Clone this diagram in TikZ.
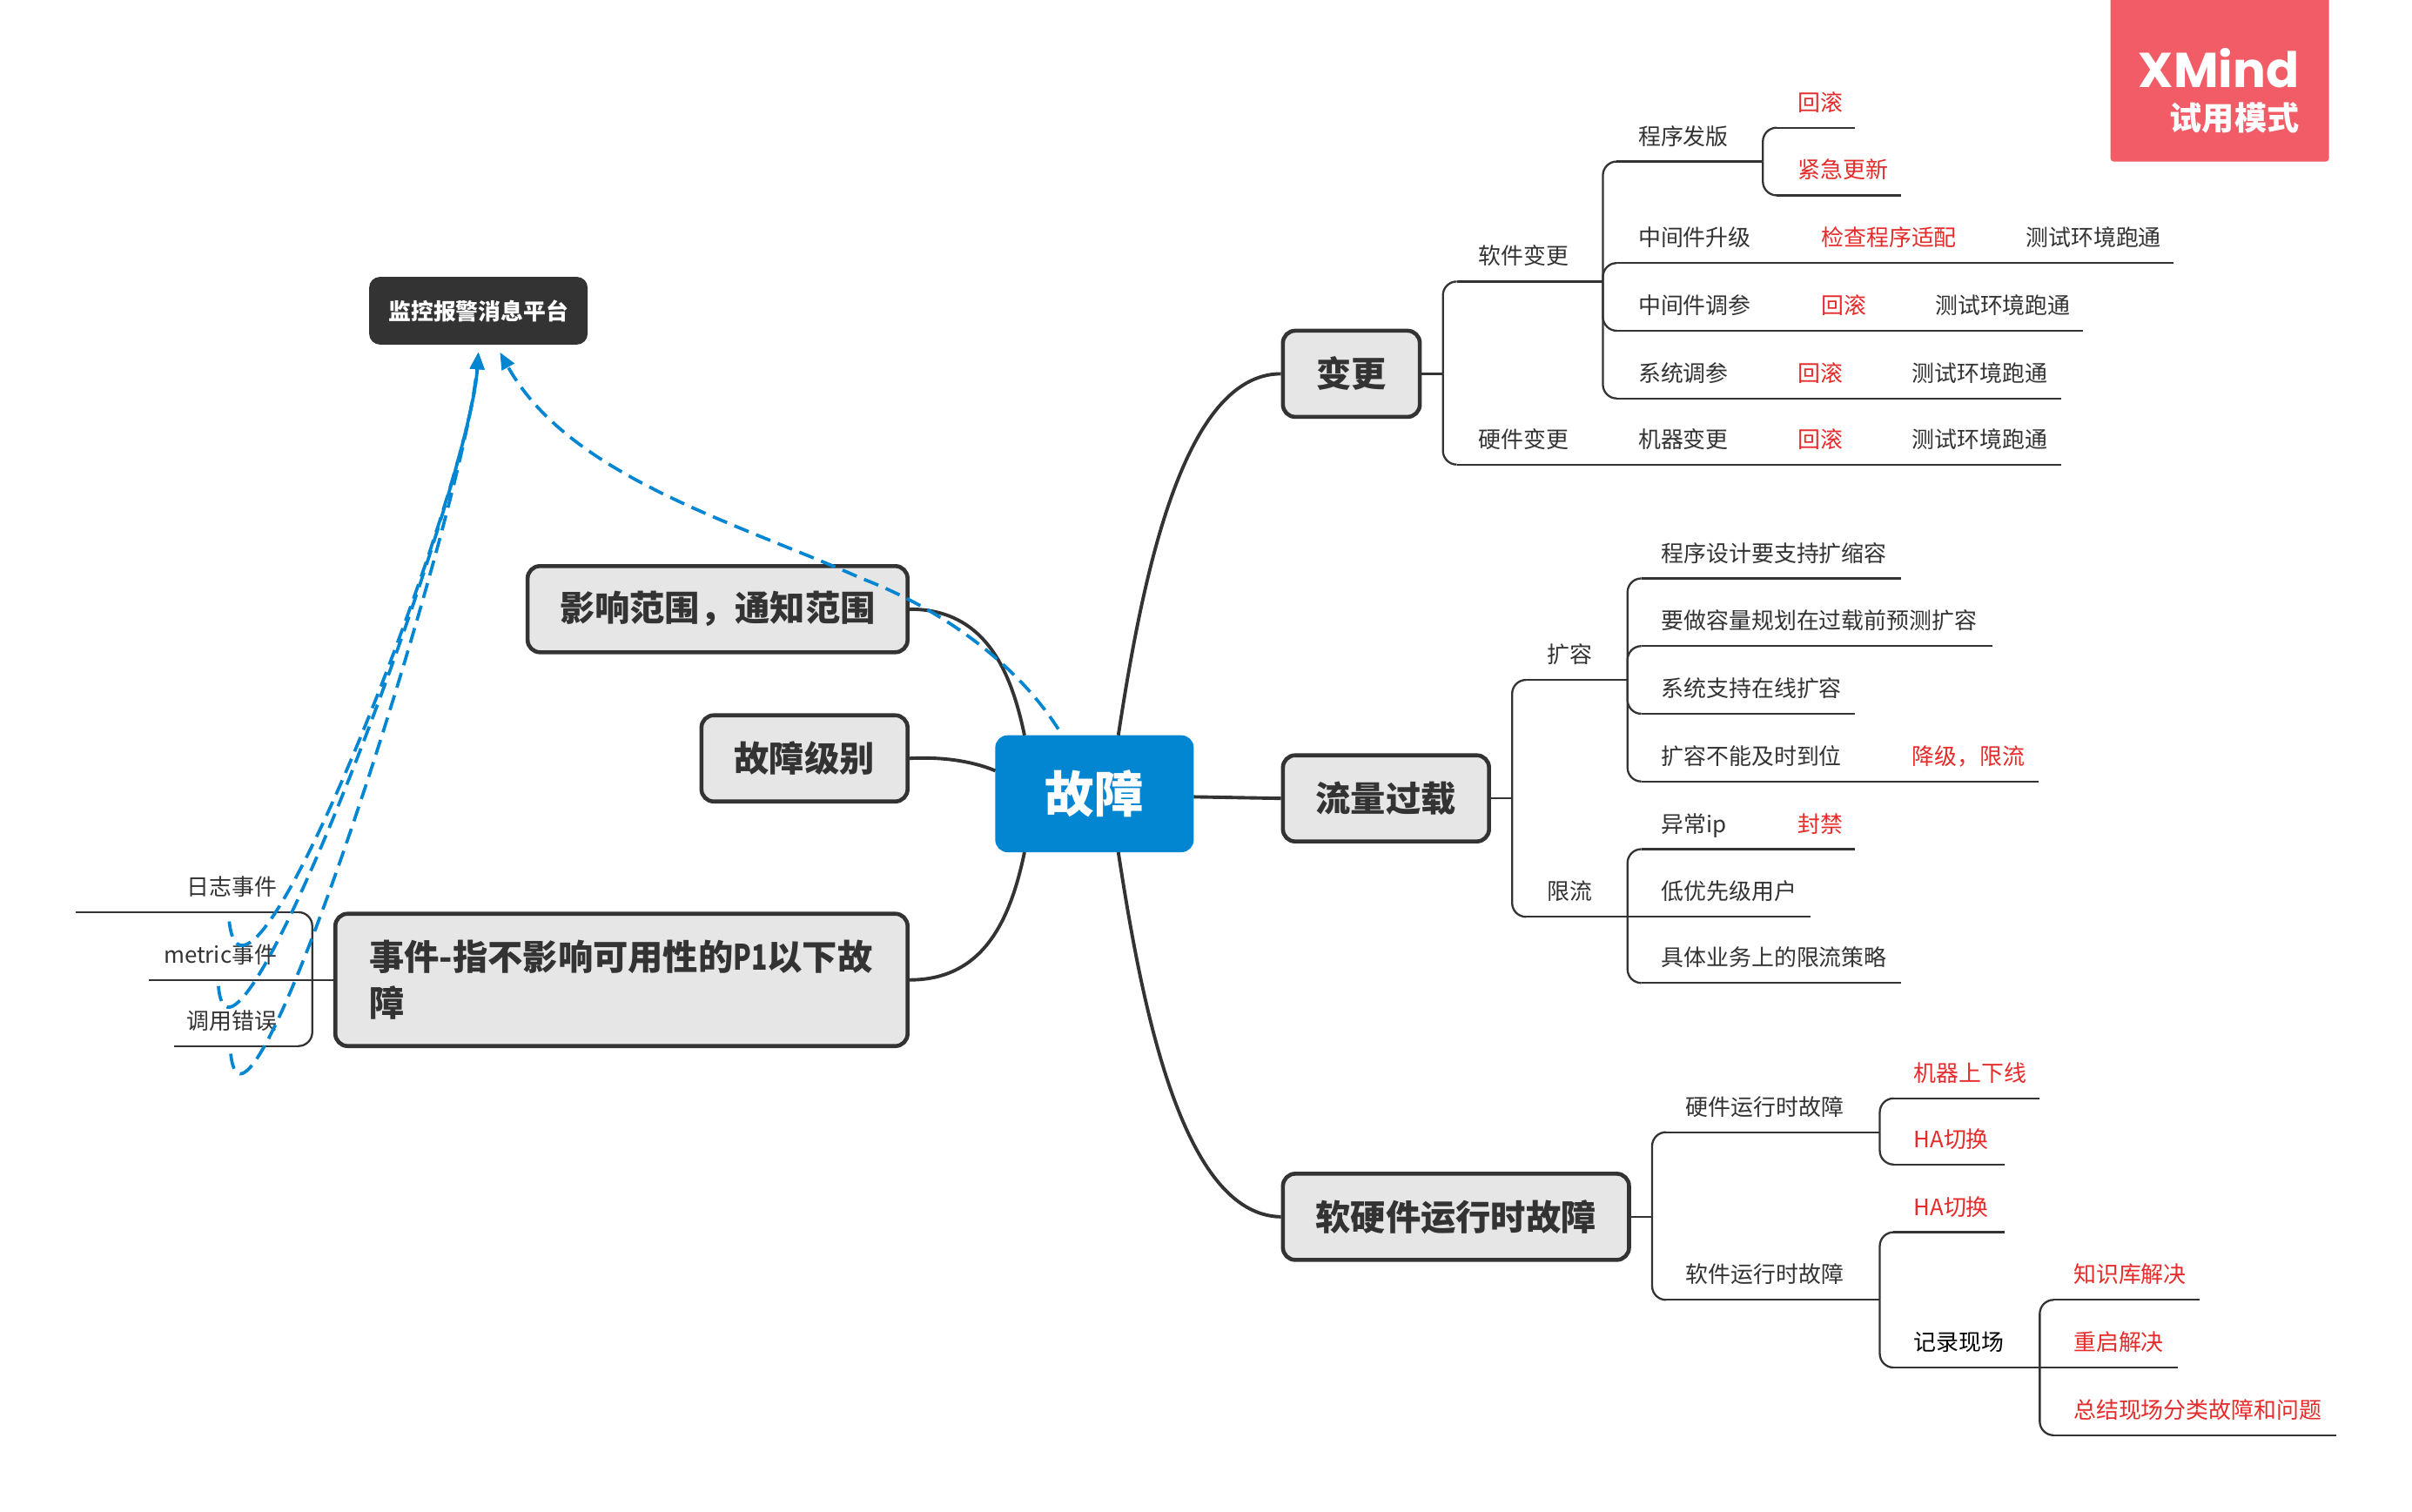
\documentclass[tikz,border=0pt]{standalone}
\usepackage{graphicx}
\usepackage{fontspec}
\setmainfont{Noto Sans CJK SC}
\newfontfamily\xmf{Poppins}
\usetikzlibrary{arrows.meta}
\definecolor{ink}{HTML}{333333}
\definecolor{redt}{HTML}{E62B2B}
\definecolor{bluef}{HTML}{0386D2}
\definecolor{boxf}{HTML}{E6E6E6}
\definecolor{wm}{HTML}{F25C66}
\newlength\tplen
\newlength\tppad
\tikzset{
  sub/.style={font=\fontsize{7.33pt}{9pt}\selectfont,inner sep=0pt,outer sep=0pt,text height=8pt,text depth=5.5pt},
  ul/.style={draw=ink,line width=0.65pt},
  conn/.style={draw=ink,line width=0.65pt,rounded corners=4.5pt},
  mainb/.style={draw=ink,line width=1.3pt,fill=boxf,rounded corners=4pt,text=ink,font=\fontsize{11.4pt}{15pt}\selectfont\bfseries,inner sep=0pt},
  mainc/.style={draw=ink,line width=1.1pt},
  rootb/.style={fill=bluef,rounded corners=4pt,text=white,font=\fontsize{16pt}{20pt}\selectfont\bfseries,inner sep=0pt},
  calloutb/.style={fill=ink,rounded corners=3.5pt,text=white,font=\fontsize{7.3pt}{9pt}\selectfont\bfseries,inner sep=0pt},
  rel/.style={draw=bluef,line width=1.05pt,dash pattern=on 5pt off 2.6pt,-{Triangle[length=5.5pt,width=4.5pt]}},
}
% [colour]{name}{x1}{x2}{y}{text x}{text}
\newcommand{\topicR}[7][ink]{%
  \pgfmathsetlength\tplen{(#4-#3)*0.5pt}%
  \pgfmathsetlength\tppad{(#6-#3)*0.5pt}%
  \node[sub,anchor=south west,text=#1] (#2) at (#3,#5) {\makebox[\tplen][l]{\hspace*{\tppad}#7}};
  \draw[ul] ([xshift=4.5pt]#2.south west) -- (#2.south east);
}
% [colour]{name}{x1}{x2}{y}{text right x}{text}
\newcommand{\topicL}[7][ink]{%
  \pgfmathsetlength\tplen{(#4-#3)*0.5pt}%
  \pgfmathsetlength\tppad{(#4-#6)*0.5pt}%
  \node[sub,anchor=south west,text=#1] (#2) at (#3,#5) {\makebox[\tplen][r]{#7\hspace*{\tppad}}};
  \draw[ul] (#2.south west) -- ([xshift=-4.5pt]#2.south east);
}
% elbow from a parent point to a child topic, straight link from a parent topic to a child topic
\newcommand{\brk}[2]{\draw[conn] (#1) |- ([xshift=4.5pt]#2.south west);}
\newcommand{\lnk}[2]{\draw[conn] (#1.south east) -- ([xshift=4.5pt]#2.south west);}
\begin{document}
\begin{tikzpicture}[x=0.5pt,y=-0.5pt]
\useasboundingbox (0,0) rectangle (1568,982.9);
\fill[white] (0,0) rectangle (1568,982.9);
% watermark
\fill[wm,rounded corners=1pt] (1372,-5) rectangle (1514,105);
\node[text=white,font=\xmf\bfseries\fontsize{15.9pt}{18pt}\selectfont,anchor=east,inner sep=0pt] (xm) at (1495,44) {XMind};
\node[text=white,font=\bfseries\fontsize{10.5pt}{11pt}\selectfont,anchor=east,inner sep=0pt] (xt) at (1495,76.5) {试用模式};
% main boxes
\node[rootb,minimum width=129*.5pt,minimum height=76*.5pt] (root) at (711.5,516) {故障};
\node[mainb,minimum width=89*.5pt,minimum height=56*.5pt] (bg) at (878.5,243) {变更};
\node[mainb,minimum width=134*.5pt,minimum height=56*.5pt] (ll) at (901,519) {流量过载};
\node[mainb,minimum width=225*.5pt,minimum height=56*.5pt] (rj) at (946.5,791) {软硬件运行时故障};
\node[mainb,minimum width=247*.5pt,minimum height=56*.5pt] (yx) at (466.5,396) {影响范围，通知范围};
\node[mainb,minimum width=134*.5pt,minimum height=56*.5pt] (jb) at (523,493) {故障级别};
\node[mainb,minimum width=372*.5pt,minimum height=86*.5pt,align=left,text width=164pt] (sj) at (404,637) {\mbox{事件-指不影响可用性的\scalebox{0.75}[1]{P1}以下故}\\障};
\node[calloutb,minimum width=142*.5pt,minimum height=44*.5pt] (pt) at (311,202) {监控报警消息平台};
% root connectors
\coordinate (rTR) at (727,478);
\coordinate (rBR) at (727,554);
\coordinate (rTL) at (666,478);
\coordinate (rBL) at (666,554);
\coordinate (rL) at (647,501);
\coordinate (rR) at (776,518);
\draw[mainc] (rTR) .. controls (742,380) and (768,243) .. (bg.west);
\draw[mainc] (rR) -- (ll.west);
\draw[mainc] (rBR) .. controls (742,652) and (768,790) .. (rj.west);
\draw[mainc] (rTL) .. controls (657,435) and (640,396) .. (yx.east);
\draw[mainc] (rL) .. controls (630,494) and (610,492) .. (jb.east);
\draw[mainc] (rBL) .. controls (657,597) and (640,637) .. (sj.east);
% 变更
\topicR{sw}{938}{1042}{183}{961}{软件变更}
\topicR{hw}{938}{1042}{302}{961}{硬件变更}
\coordinate (bgj) at (938,243);
\draw[conn] (bg.east) -- (bgj);
\brk{bgj}{sw}
\brk{bgj}{hw}
\topicR{cx}{1042}{1146}{105}{1065}{程序发版}
\topicR[redt]{hg1}{1146}{1206}{83}{1169}{回滚}
\topicR[redt]{jj}{1146}{1236}{127}{1169}{紧急更新}
\topicR{zs}{1042}{1162}{171}{1065}{中间件升级}
\topicR[redt]{jc}{1162}{1295}{171}{1184}{检查程序适配}
\topicR{cs1}{1295}{1413}{171}{1317}{测试环境跑通}
\topicR{zt}{1042}{1162}{215}{1065}{中间件调参}
\topicR[redt]{hg2}{1162}{1236}{215}{1184}{回滚}
\topicR{cs2}{1236}{1354}{215}{1258}{测试环境跑通}
\topicR{xtc}{1042}{1146}{259}{1065}{系统调参}
\topicR[redt]{hg3}{1146}{1221}{259}{1169}{回滚}
\topicR{cs3}{1221}{1340}{259}{1243}{测试环境跑通}
\topicR{jq}{1042}{1146}{302}{1065}{机器变更}
\topicR[redt]{hg4}{1146}{1221}{302}{1169}{回滚}
\topicR{cs4}{1221}{1340}{302}{1243}{测试环境跑通}
\brk{sw.south east}{cx}
\brk{sw.south east}{zs}
\brk{sw.south east}{zt}
\brk{sw.south east}{xtc}
\brk{cx.south east}{hg1}
\brk{cx.south east}{jj}
\lnk{hw}{jq}
\lnk{jq}{hg4}
\lnk{hg4}{cs4}
\lnk{zs}{jc}
\lnk{jc}{cs1}
\lnk{zt}{hg2}
\lnk{hg2}{cs2}
\lnk{xtc}{hg3}
\lnk{hg3}{cs3}
% 流量过载
\topicR{kr}{983}{1058}{442}{1006}{扩容}
\topicR{xl}{983}{1058}{596}{1006}{限流}
\coordinate (llj) at (983,519);
\draw[conn] (ll.east) -- (llj);
\brk{llj}{kr}
\brk{llj}{xl}
\topicR{k1}{1058}{1236}{376}{1080}{程序设计要支持扩缩容}
\topicR{k2}{1058}{1295}{420}{1080}{要做容量规划在过载前预测扩容}
\topicR{k3}{1058}{1206}{464}{1080}{系统支持在线扩容}
\topicR{k4}{1058}{1221}{508}{1080}{扩容不能及时到位}
\topicR[redt]{k5}{1221}{1325}{508}{1243}{降级，限流}
\topicR{x1}{1058}{1146}{552}{1080}{异常ip}
\topicR[redt]{x2}{1146}{1206}{552}{1169}{封禁}
\topicR{x3}{1058}{1177}{596}{1080}{低优先级用户}
\topicR{x4}{1058}{1236}{639}{1080}{具体业务上的限流策略}
\brk{kr.south east}{k1}
\brk{kr.south east}{k2}
\brk{kr.south east}{k3}
\brk{kr.south east}{k4}
\brk{xl.south east}{x1}
\brk{xl.south east}{x4}
\lnk{xl}{x3}
\lnk{k4}{k5}
\lnk{x1}{x2}
% 软硬件
\topicR{yj}{1074}{1222}{736}{1096}{硬件运行时故障}
\topicR{rb}{1074}{1222}{845}{1096}{软件运行时故障}
\coordinate (rjj) at (1074,791);
\draw[conn] (rj.east) -- (rjj);
\brk{rjj}{yj}
\brk{rjj}{rb}
\topicR[redt]{y1}{1222}{1326}{714}{1244}{机器上下线}
\topicR[redt]{y2}{1222}{1303}{757}{1244}{HA切换}
\topicR[redt]{r1}{1222}{1303}{801}{1244}{HA切换}
\topicR[black]{r2}{1222}{1326}{889}{1244}{记录现场}
\topicR[redt]{z1}{1326}{1430}{845}{1348}{知识库解决}
\topicR[redt]{z2}{1326}{1416}{889}{1348}{重启解决}
\topicR[redt]{z3}{1326}{1519}{933}{1348}{总结现场分类故障和问题}
\brk{yj.south east}{y1}
\brk{yj.south east}{y2}
\brk{rb.south east}{r1}
\brk{rb.south east}{r2}
\brk{r2.south east}{z1}
\brk{r2.south east}{z3}
\lnk{r2}{z2}
% 事件
\topicL{e1}{49}{203}{593}{180}{日志事件}
\topicL{e2}{97}{203}{637}{180}{metric事件}
\topicL{e3}{113}{203}{680}{180}{调用错误}
\coordinate (sjj) at (203,637);
\draw[conn] (sj.west) -- (sjj);
\draw[conn] (sjj) |- ([xshift=-4.5pt]e1.south east);
\draw[conn] (sjj) |- ([xshift=-4.5pt]e3.south east);
\draw[conn] (sjj) -- ([xshift=-4.5pt]e2.south east);
% relationships
\coordinate (a1) at (311,229);
\coordinate (a2) at (325,229);
\coordinate (s1) at (149,599);
\coordinate (s2) at (142,641);
\coordinate (s3) at (150,685);
\coordinate (s4) at (688,474);
\draw[rel] (s1) .. controls (160,695) and (305,320) .. (a1);
\draw[rel] (s2) .. controls (150,735) and (305,320) .. (a1);
\draw[rel] (s3) .. controls (160,780) and (302,330) .. (a1);
\draw[rel] (s4) .. controls (660,430) and (610,395) .. (560,376) .. controls (480,340) and (370,310) .. (a2);
\end{tikzpicture}
\end{document}
